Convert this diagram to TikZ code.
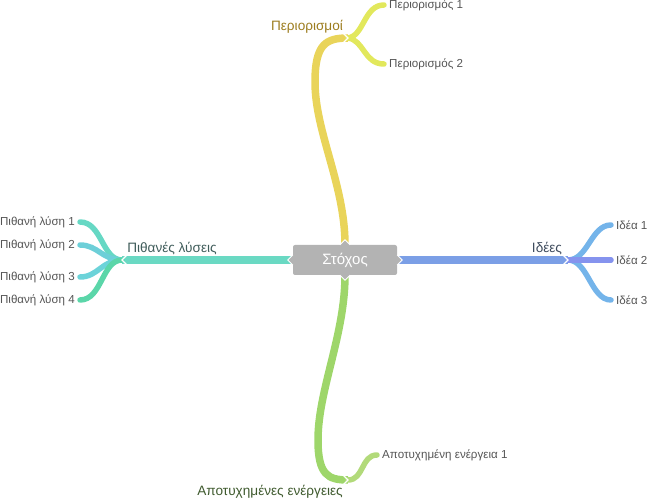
\documentclass[tikz,border=0pt]{standalone}
\usepackage{fontspec}
\setmainfont{Liberation Sans}
\usepackage{xcolor}
\usetikzlibrary{positioning}

\definecolor{boxgray}{HTML}{B3B3B3}
\definecolor{leafgray}{HTML}{555555}
\definecolor{limmain}{HTML}{E9D45A}
\definecolor{limsub}{HTML}{E2E85C}
\definecolor{limtext}{HTML}{9C7C1E}
\definecolor{solmain}{HTML}{6AD9C3}
\definecolor{solA}{HTML}{66D8C4}
\definecolor{solB}{HTML}{6DCFD8}
\definecolor{solC}{HTML}{6CD3D9}
\definecolor{solD}{HTML}{5BD6A9}
\definecolor{soltext}{HTML}{3F5C5A}
\definecolor{ideamain}{HTML}{7B9FE6}
\definecolor{ideasub}{HTML}{74B4EA}
\definecolor{ideamid}{HTML}{8593EE}
\definecolor{ideatext}{HTML}{3D4A5C}
\definecolor{failmain}{HTML}{9ED66A}
\definecolor{failsub}{HTML}{B2DA7A}
\definecolor{failtext}{HTML}{3F5A2E}

\begin{document}
\begin{tikzpicture}[x=1pt,y=-1pt,
    mainbr/.style={line width=7.5pt,line cap=butt},
    subbr/.style={line width=5.5pt,line cap=round},
    leaf/.style={text=leafgray,font=\fontsize{11.6}{14}\selectfont,inner sep=1pt,inner xsep=5pt},
    topic/.style={font=\fontsize{13.6}{16}\selectfont,inner sep=1pt},
    notch/.style={white,line width=1.2pt},
    tab/.style={fill=boxgray,draw=white,line width=0.8pt}]
  \useasboundingbox (0,0) rectangle (649,500);

  % centre
  \node[fill=boxgray,rounded corners=2pt,minimum width=104pt,minimum height=30pt,
    text=white,font=\fontsize{15}{17}\selectfont] (goal) at (345,260) {Στόχος};

  \coordinate (jtop) at (348,38);
  \coordinate (jbot) at (348,480);
  \coordinate (jleft) at (122,260);
  \coordinate (jright) at (568,260);

  % main branches
  \draw[mainbr,limmain] (goal.north) .. controls +(0,-60) and +(0,50) .. (315,82)
    .. controls +(0,-38) and +(-22,0) .. (jtop);
  \draw[mainbr,failmain] (goal.south) .. controls +(0,60) and +(0,-50) .. (318,440)
    .. controls +(0,35) and +(-20,0) .. (jbot);
  \draw[mainbr,solmain] (goal.west) -- (jleft);
  \draw[mainbr,ideamain] (goal.east) -- (jright);

  % tabs on the box
  \draw[tab,shift={(goal.north)}] (-5,0) -- (0,-5) -- (5,0);
  \draw[tab,shift={(goal.south)}] (-5,0) -- (0,5) -- (5,0);
  \draw[tab,shift={(goal.west)}] (0,-5) -- (-5,0) -- (0,5);
  \draw[tab,shift={(goal.east)}] (0,-5) -- (5,0) -- (0,5);

  % labels
  \node[topic,text=limtext] (lim) at (307,27) {Περιορισμοί};
  \node[topic,text=soltext] (sol) at (172,249) {Πιθανές λύσεις};
  \node[topic,text=ideatext] (idea) at (547,249) {Ιδέες};
  \node[topic,text=failtext] (fail) at (270,492) {Αποτυχημένες ενέργειες};

  % leaves
  \node[leaf,anchor=west] (lim1) at (384,5) {Περιορισμός 1};
  \node[leaf,anchor=west] (lim2) at (384,64) {Περιορισμός 2};
  \node[leaf,anchor=east] (sol1) at (80,222) {Πιθανή λύση 1};
  \node[leaf,anchor=east] (sol2) at (80,245) {Πιθανή λύση 2};
  \node[leaf,anchor=east] (sol3) at (80,277) {Πιθανή λύση 3};
  \node[leaf,anchor=east] (sol4) at (80,300) {Πιθανή λύση 4};
  \node[leaf,anchor=west] (idea1) at (611,225) {Ιδέα 1};
  \node[leaf,anchor=west] (idea2) at (611,260) {Ιδέα 2};
  \node[leaf,anchor=west] (idea3) at (611,300) {Ιδέα 3};
  \node[leaf,anchor=west] (fail1) at (377,455) {Αποτυχημένη ενέργεια 1};

  % sub branches
  \draw[subbr,limsub] (jtop) .. controls +(16,-2) and +(-20,0) .. (lim1.west);
  \draw[subbr,limsub] (jtop) .. controls +(16,2) and +(-20,0) .. (lim2.west);
  \draw[subbr,solA] (jleft) .. controls +(-20,0) and +(22,0) .. (sol1.east);
  \draw[subbr,solB] (jleft) .. controls +(-20,0) and +(18,0) .. (sol2.east);
  \draw[subbr,solC] (jleft) .. controls +(-20,0) and +(18,0) .. (sol3.east);
  \draw[subbr,solD] (jleft) .. controls +(-20,0) and +(22,0) .. (sol4.east);
  \draw[subbr,ideasub] (jright) .. controls +(20,0) and +(-20,0) .. (idea1.west);
  \draw[subbr,ideasub] (jright) .. controls +(20,0) and +(-20,0) .. (idea3.west);
  \draw[subbr,ideamid] (jright) -- (idea2.west);
  \draw[subbr,failsub] (jbot) .. controls +(16,0) and +(-16,0) .. (fail1.west);

  % notches at the junctions
  \draw[notch,shift={(jleft)}] (5,-5) -- (0,0) -- (5,5);
  \draw[notch,shift={(jright)}] (-5,-5) -- (0,0) -- (-5,5);
  \draw[notch,shift={(jtop)}] (-5,-5) -- (0,0) -- (-5,5);
  \draw[notch,shift={(jbot)}] (-5,-5) -- (0,0) -- (-5,5);
\end{tikzpicture}
\end{document}
